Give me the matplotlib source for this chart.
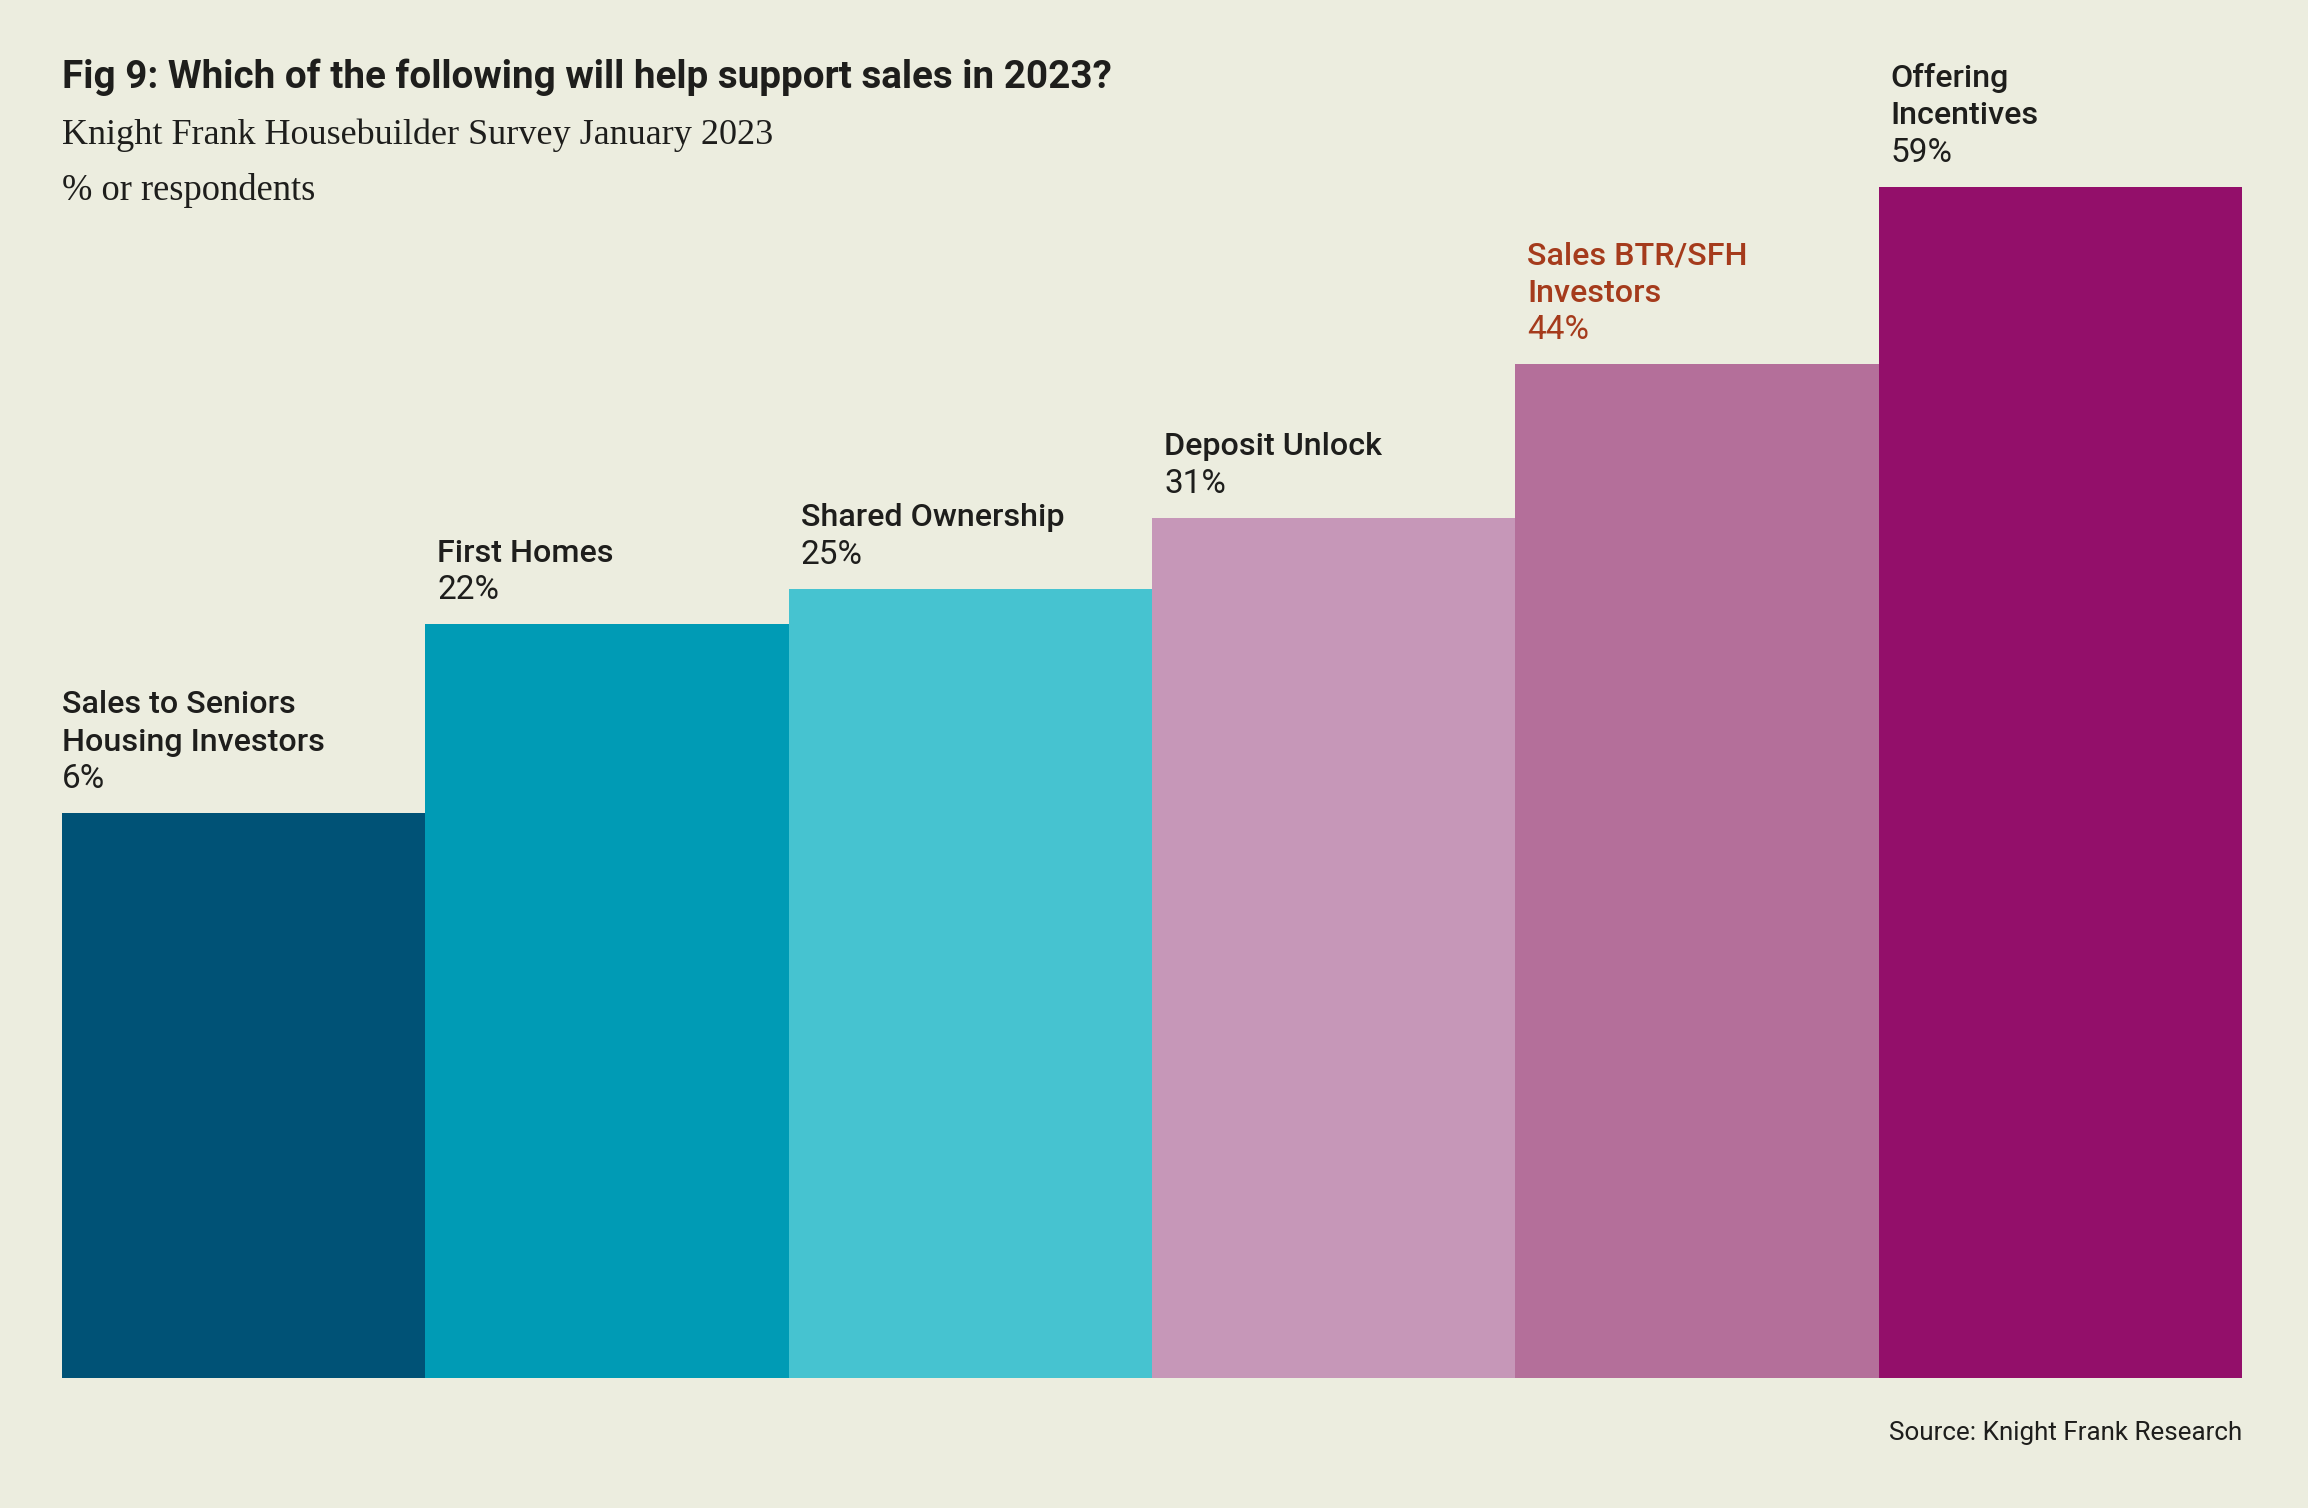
import matplotlib
matplotlib.use("Agg")
import matplotlib.pyplot as plt

# ---- data ----
categories = ["Sales to Seniors\nHousing Investors", "First Homes", "Shared Ownership",
              "Deposit Unlock", "Sales BTR/SFH\nInvestors", "Offering\nIncentives"]
values = [6, 22, 25, 31, 44, 59]
bar_colors = ["#005276", "#009BB5", "#46C3D0", "#C697B8", "#B46F9A", "#930F6A"]
label_colors = ["#1E1E1C", "#1E1E1C", "#1E1E1C", "#1E1E1C", "#A53B1C", "#1E1E1C"]

title = "Fig 9: Which of the following will help support sales in 2023?"
subtitle = "Knight Frank Housebuilder Survey January 2023"
unit_note = "% or respondents"
source = "Source: Knight Frank Research"

BG = "#ECEDDF"
TXT = "#1E1E1C"
W, H = 2308, 1508
DPI = 100

fig = plt.figure(figsize=(W / DPI, H / DPI), dpi=DPI, facecolor=BG)
ax = fig.add_axes([62 / W, 130 / H, 2180 / W, 1191 / H])
ax.set_facecolor(BG)

ymin = -41.8
x = list(range(len(values)))
ax.bar(x, [v - ymin for v in values], bottom=ymin, width=1.0, color=bar_colors,
       edgecolor="none", linewidth=0)
ax.set_xlim(-0.5, len(values) - 0.5)
ax.set_ylim(ymin, max(values))
ax.axis("off")

px = 0.72  # points per pixel at 100 dpi
sans = "Roboto"
for i, (cat, v, col) in enumerate(zip(categories, values, label_colors)):
    xo = 0 if i == 0 else 12 * px
    left = i - 0.5
    base = 25
    ax.annotate(f"{v}%", xy=(left, v), xytext=(xo, base * px), textcoords="offset points",
                ha="left", va="baseline", fontsize=24, family=sans, color=col,
                annotation_clip=False)
    lines = cat.split("\n")
    for k, line in enumerate(reversed(lines)):
        ax.annotate(line, xy=(left, v), xytext=(xo, (base + 37.5 * (k + 1)) * px),
                    textcoords="offset points", ha="left", va="baseline", fontsize=23.2,
                    family=sans, fontweight="medium", color=col, annotation_clip=False)

fig.text(62 / W, 1 - 88 / H, title, fontsize=27.8, family=sans, fontweight="bold",
         color=TXT, ha="left", va="baseline")
fig.text(62 / W, 1 - 144 / H, subtitle, fontsize=26, family="Liberation Serif",
         color=TXT, ha="left", va="baseline")
fig.text(62 / W, 1 - 200 / H, unit_note, fontsize=26.3, family="Liberation Serif",
         color=TXT, ha="left", va="baseline")
fig.text(2242 / W, 1 - 1440 / H, source, fontsize=18.7, family=sans,
         color=TXT, ha="right", va="baseline")

fig.savefig("out.png", dpi=DPI, facecolor=BG)
